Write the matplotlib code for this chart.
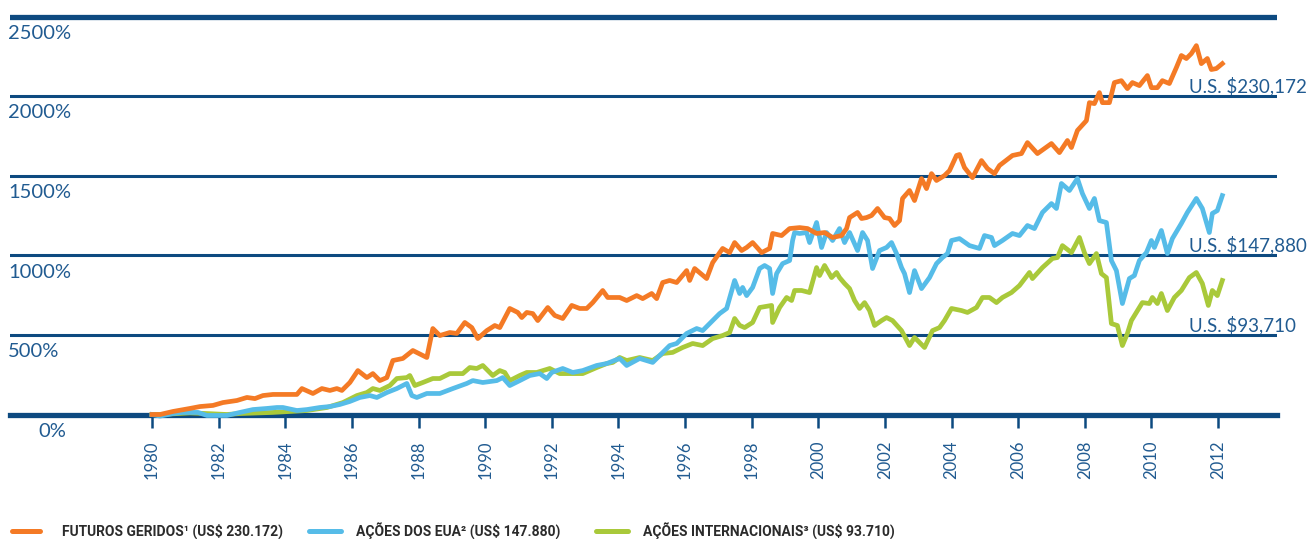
import matplotlib
matplotlib.use("Agg")
import matplotlib.pyplot as plt
from matplotlib.lines import Line2D

# ================================
# DATA (cumulative return, %)
# ================================
fut_year = [1980.0, 1980.24, 1980.63, 1981.14, 1981.44, 1981.83, 1982.13, 1982.55, 1982.85, 1983.09,
            1983.33, 1983.63, 1983.93, 1984.35, 1984.5, 1984.83, 1985.1, 1985.34, 1985.55, 1985.7,
            1985.94, 1986.18, 1986.45, 1986.63, 1986.84, 1987.05, 1987.23, 1987.53, 1987.83, 1988.25,
            1988.43, 1988.64, 1988.94, 1989.15, 1989.39, 1989.6, 1989.78, 1990.05, 1990.29, 1990.44,
            1990.74, 1990.98, 1991.1, 1991.25, 1991.43, 1991.58, 1991.88, 1992.09, 1992.33, 1992.6,
            1992.84, 1993.05, 1993.23, 1993.53, 1993.68, 1994.04, 1994.25, 1994.55, 1994.73, 1995.0,
            1995.15, 1995.33, 1995.54, 1995.75, 1996.05, 1996.14, 1996.29, 1996.65, 1996.83, 1997.13,
            1997.34, 1997.49, 1997.7, 1997.85, 1998.03, 1998.3, 1998.54, 1998.63, 1998.9, 1999.14,
            1999.44, 1999.68, 1999.95, 2000.19, 2000.43, 2000.7, 2000.85, 2000.94, 2001.18, 2001.3,
            2001.45, 2001.6, 2001.78, 2001.99, 2002.14, 2002.29, 2002.44, 2002.53, 2002.74, 2002.89,
            2003.1, 2003.25, 2003.4, 2003.55, 2003.79, 2003.94, 2004.15, 2004.24, 2004.39, 2004.63,
            2004.9, 2005.08, 2005.29, 2005.44, 2005.83, 2006.1, 2006.28, 2006.58, 2007.0, 2007.24,
            2007.48, 2007.6, 2007.78, 2008.05, 2008.14, 2008.29, 2008.44, 2008.53, 2008.74, 2008.89,
            2009.1, 2009.28, 2009.43, 2009.64, 2009.88, 2010.0, 2010.18, 2010.33, 2010.54, 2010.75,
            2010.9, 2011.05, 2011.2, 2011.35, 2011.5, 2011.68, 2011.8, 2011.95, 2012.13]
fut_val = [0, 0, 19, 38, 50, 57, 75, 88, 107, 100,
           119, 126, 126, 126, 163, 132, 163, 151, 163, 151,
           201, 276, 232, 257, 213, 232, 339, 352, 402, 358,
           540, 496, 515, 509, 578, 546, 477, 527, 559, 546,
           666, 641, 609, 641, 634, 590, 672, 622, 603, 685,
           666, 666, 703, 779, 735, 735, 716, 747, 728, 760,
           728, 829, 842, 829, 904, 842, 917, 854, 954, 1043,
           1017, 1080, 1030, 1049, 1080, 1017, 1043, 1137, 1124, 1168,
           1174, 1168, 1137, 1143, 1112, 1124, 1168, 1237, 1269, 1231,
           1237, 1250, 1294, 1237, 1231, 1187, 1218, 1357, 1407, 1344,
           1482, 1419, 1513, 1470, 1501, 1532, 1627, 1633, 1551, 1488,
           1595, 1545, 1513, 1564, 1627, 1639, 1708, 1639, 1702, 1645,
           1721, 1677, 1784, 1846, 1959, 1953, 2022, 1959, 1959, 2085,
           2097, 2047, 2085, 2066, 2129, 2053, 2053, 2097, 2079, 2179,
           2255, 2236, 2267, 2317, 2204, 2236, 2167, 2173, 2204]

us_year = [1980.0, 1980.24, 1980.63, 1980.93, 1981.38, 1981.65, 1981.95, 1982.25, 1982.64, 1983.03,
           1983.45, 1983.75, 1983.93, 1984.35, 1984.65, 1985.04, 1985.34, 1985.64, 1985.94, 1986.24,
           1986.54, 1986.75, 1987.05, 1987.35, 1987.65, 1987.8, 1987.95, 1988.25, 1988.64, 1989.03,
           1989.45, 1989.63, 1989.93, 1990.35, 1990.53, 1990.74, 1991.04, 1991.34, 1991.64, 1991.85,
           1992.0, 1992.33, 1992.63, 1992.93, 1993.35, 1993.65, 1994.04, 1994.25, 1994.64, 1995.03,
           1995.24, 1995.54, 1995.75, 1996.05, 1996.35, 1996.53, 1996.74, 1997.04, 1997.25, 1997.49,
           1997.64, 1997.73, 1997.85, 1998.03, 1998.24, 1998.39, 1998.54, 1998.63, 1998.75, 1998.93,
           1999.14, 1999.23, 1999.29, 1999.44, 1999.65, 1999.74, 1999.95, 2000.1, 2000.25, 2000.43,
           2000.64, 2000.79, 2000.94, 2001.18, 2001.33, 2001.48, 2001.63, 2001.84, 2002.05, 2002.2,
           2002.35, 2002.5, 2002.59, 2002.74, 2002.89, 2003.1, 2003.34, 2003.55, 2003.73, 2003.88,
           2004.0, 2004.24, 2004.54, 2004.84, 2004.99, 2005.2, 2005.29, 2005.53, 2005.83, 2006.04,
           2006.28, 2006.49, 2006.73, 2007.0, 2007.15, 2007.3, 2007.54, 2007.78, 2007.93, 2008.14,
           2008.29, 2008.44, 2008.65, 2008.8, 2008.95, 2009.13, 2009.34, 2009.49, 2009.64, 2009.85,
           2010.0, 2010.09, 2010.3, 2010.48, 2010.63, 2010.9, 2011.08, 2011.35, 2011.53, 2011.74,
           2011.83, 2011.98, 2012.13]
us_val = [0, -10, 6, 13, 13, -6, -6, -6, 13, 31,
          38, 44, 44, 25, 31, 44, 50, 63, 82, 107,
          119, 107, 138, 163, 195, 119, 107, 132, 132, 163,
          195, 213, 201, 213, 232, 182, 213, 245, 257, 226,
          264, 289, 264, 276, 308, 320, 352, 308, 352, 327,
          371, 433, 446, 509, 540, 527, 571, 634, 666, 842,
          760, 798, 747, 798, 917, 936, 917, 760, 885, 948,
          967, 1093, 1143, 1137, 1143, 1080, 1206, 1049, 1143, 1093,
          1168, 1080, 1143, 1030, 1143, 1093, 917, 1030, 1049, 1080,
          1011, 923, 885, 766, 904, 791, 860, 948, 986, 1011,
          1093, 1105, 1061, 1043, 1124, 1112, 1061, 1093, 1137, 1124,
          1187, 1168, 1269, 1325, 1294, 1451, 1407, 1482, 1388, 1294,
          1357, 1218, 1206, 967, 904, 697, 854, 873, 967, 1017,
          1093, 1049, 1156, 1011, 1105, 1200, 1269, 1357, 1294, 1143,
          1263, 1281, 1375]

intl_year = [1980.0, 1980.24, 1981.14, 1981.65, 1982.25, 1982.64, 1983.63, 1984.65, 1985.25, 1985.73,
             1986.15, 1986.45, 1986.63, 1986.84, 1987.14, 1987.35, 1987.65, 1987.74, 1987.89, 1988.13,
             1988.43, 1988.64, 1988.94, 1989.33, 1989.54, 1989.75, 1989.93, 1990.23, 1990.44, 1990.59,
             1990.74, 1991.04, 1991.25, 1991.55, 1991.94, 1992.24, 1992.63, 1992.93, 1993.35, 1993.65,
             1993.83, 1994.04, 1994.25, 1994.64, 1995.03, 1995.33, 1995.63, 1995.93, 1996.23, 1996.53,
             1996.83, 1997.13, 1997.34, 1997.49, 1997.64, 1997.79, 1998.03, 1998.24, 1998.6, 1998.63,
             1998.84, 1999.05, 1999.2, 1999.29, 1999.5, 1999.74, 1999.95, 2000.04, 2000.19, 2000.4,
             2000.55, 2000.64, 2000.79, 2000.94, 2001.09, 2001.24, 2001.39, 2001.54, 2001.69, 2001.9,
             2002.05, 2002.23, 2002.5, 2002.74, 2002.89, 2003.19, 2003.43, 2003.64, 2003.79, 2004.0,
             2004.3, 2004.48, 2004.75, 2004.93, 2005.14, 2005.35, 2005.53, 2005.8, 2006.04, 2006.34,
             2006.43, 2006.73, 2007.03, 2007.18, 2007.33, 2007.6, 2007.84, 2007.99, 2008.14, 2008.35,
             2008.5, 2008.65, 2008.8, 2008.98, 2009.13, 2009.28, 2009.4, 2009.73, 2009.94, 2010.03,
             2010.18, 2010.3, 2010.48, 2010.69, 2010.9, 2011.14, 2011.35, 2011.53, 2011.71, 2011.83,
             2011.98, 2012.13]
intl_val = [0, 0, 10, 6, 0, 6, 13, 25, 44, 75,
            119, 138, 163, 151, 182, 226, 232, 245, 182, 201,
            226, 226, 257, 257, 295, 289, 308, 245, 276, 264,
            213, 245, 264, 264, 289, 257, 257, 257, 295, 320,
            327, 358, 339, 358, 339, 383, 390, 421, 446, 433,
            477, 496, 515, 603, 560, 546, 578, 672, 685, 578,
            672, 735, 716, 779, 779, 766, 923, 873, 936, 860,
            892, 860, 823, 791, 716, 666, 703, 653, 559, 590,
            609, 590, 527, 433, 484, 421, 527, 546, 590, 666,
            653, 641, 672, 735, 735, 703, 735, 766, 810, 892,
            854, 923, 980, 986, 1061, 1017, 1112, 1017, 948, 1011,
            885, 860, 571, 559, 433, 509, 590, 703, 697, 735,
            697, 760, 653, 735, 779, 860, 892, 823, 685, 779,
            747, 842]

grid_levels = [500, 1000, 1500, 2000]
ylabels = [0, 500, 1000, 1500, 2000, 2500]
xticks = list(range(1980, 2013, 2))

end_labels = ["U.S. $230,172", "U.S. $147,880", "U.S. $93,710"]
end_label_levels = [2000, 1000, 500]

legend_labels = ["FUTUROS GERIDOS\u00b9 (US$ 230.172)",
                 "AÇÕES DOS EUA\u00b2 (US$ 147.880)",
                 "AÇÕES INTERNACIONAIS\u00b3 (US$ 93.710)"]

# ================================
# STYLE
# ================================
ORANGE = "#f47a25"
BLUE = "#56bce8"
GREEN = "#a9c93a"
NAVY = "#0d4a80"
TXT = "#215b91"

plt.rcParams["font.family"] = ["Lato", "DejaVu Sans"]

W, H = 1310, 539
fig = plt.figure(figsize=(W / 100, H / 100), dpi=100)

# axes placed so that 1980 sits at x=152px, 2012 at 1218px, 0% at y=414.5px, 2500% at 16.5px
px_per_year = (1218 - 152) / 32
px_per_pct = (414.5 - 16.5) / 2500
ax_left, ax_right = 10, 1277
ax_top, ax_bot = 10, 430
ax = fig.add_axes([ax_left / W, (H - ax_bot) / H, (ax_right - ax_left) / W, (ax_bot - ax_top) / H])
ax.set_xlim(1980 - (152 - ax_left) / px_per_year, 1980 + (ax_right - 152) / px_per_year)
ax.set_ylim((414.5 - ax_bot) / px_per_pct, (414.5 - ax_top) / px_per_pct)

for s in ["top", "left", "right"]:
    ax.spines[s].set_visible(False)
ax.spines["bottom"].set_position(("data", 0))
ax.spines["bottom"].set_color(NAVY)
ax.spines["bottom"].set_linewidth(3.8)
ax.spines["bottom"].set_zorder(2)

for lv in grid_levels:
    ax.axhline(lv, color=NAVY, lw=2.2, zorder=1)
ax.axhline(2500, color=NAVY, lw=3.8, zorder=1)

ax.plot(intl_year, intl_val, color=GREEN, lw=3.4, solid_joinstyle="round", zorder=3)
ax.plot(us_year, us_val, color=BLUE, lw=3.4, solid_joinstyle="round", zorder=4)
ax.plot(fut_year, fut_val, color=ORANGE, lw=3.4, solid_joinstyle="round", zorder=5)

ax.set_yticks([])
ax.set_xticks(xticks)
ax.set_xticklabels([str(t) for t in xticks], rotation=90, color=TXT, fontsize=12)
ax.tick_params(axis="x", direction="out", length=9, width=1.8, color=NAVY, pad=10)

# y labels sit under each gridline
for v in ylabels:
    xpx = 38 if v == 0 else 8
    ax.annotate(f"{v}%", xy=(xpx, v), xycoords=("figure pixels", "data"),
                xytext=(0, -6), textcoords="offset points",
                ha="left", va="top", fontsize=14.5, color=TXT)

end_x = 1980 + (1189 - 152) / px_per_year
for txt, lv in zip(end_labels, end_label_levels):
    ax.text(end_x, lv + 25, txt, ha="left", va="baseline", fontsize=13.5, color=TXT)

# ================================
# LEGEND (drawn by hand, one row at the bottom)
# ================================
leg_y = (H - 531) / H
leg_colors = [ORANGE, BLUE, GREEN]
leg_line_x = [(12, 40), (309, 341), (596, 628)]
leg_text_x = [62, 356, 643]
for c, (x0, x1), tx, lab in zip(leg_colors, leg_line_x, leg_text_x, legend_labels):
    fig.add_artist(Line2D([x0 / W, x1 / W], [leg_y, leg_y], transform=fig.transFigure,
                          color=c, lw=3.6, solid_capstyle="round"))
    fig.text(tx / W, leg_y, lab, ha="left", va="center", fontsize=10, fontweight="bold",
             color="#2b2b2b", family=["Roboto", "DejaVu Sans"])

fig.savefig("out.png", dpi=100)
